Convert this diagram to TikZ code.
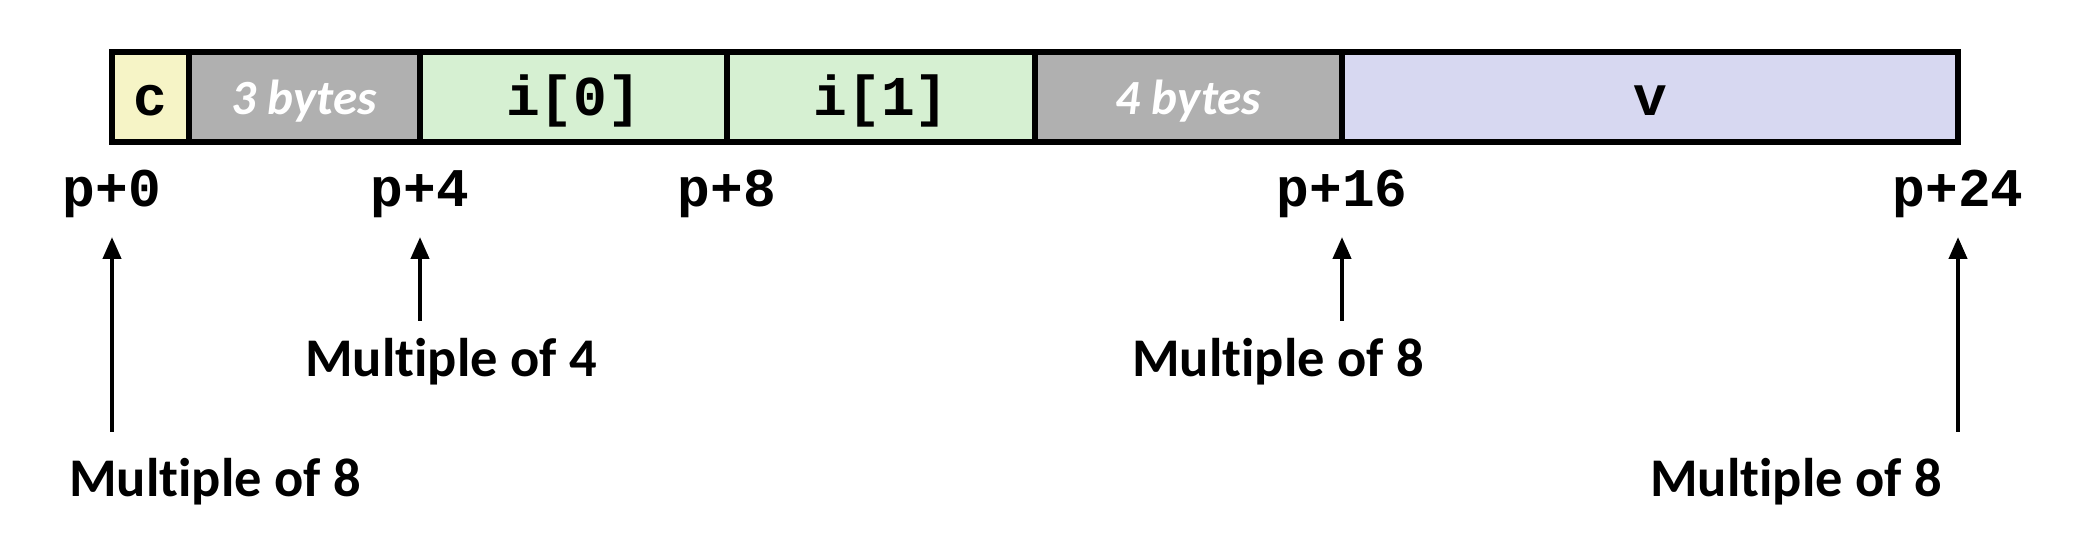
\documentclass[tikz,border=0pt]{standalone}
\usepackage{fontspec}
\setmainfont[Ligatures=NoCommon]{Carlito}
\setmonofont{Liberation Mono}
\usetikzlibrary{arrows.meta}
\definecolor{padgray}{RGB}{176, 176, 176}
\definecolor{charyellow}{RGB}{246, 244, 198}
\definecolor{intgreen}{RGB}{214, 240, 210}
\definecolor{dblpurple}{RGB}{215, 216, 241}

\begin{document}
\begin{tikzpicture}[
    cellline/.style={draw=black, line width=1.5pt},
    fieldtxt/.style={font=\fontsize{16}{18}\selectfont\ttfamily\bfseries},
    padtxt/.style={text=white, font=\fontsize{14}{16}\selectfont\bfseries\itshape},
    addrtxt/.style={font=\fontsize{15.5}{18}\selectfont\ttfamily\bfseries, inner sep=0pt, anchor=base},
    multtxt/.style={font=\fontsize{15.5}{18}\selectfont\bfseries},
    alignarrow/.style={line width=1.2pt, -{Triangle[length=0.22cm, width=0.18cm]}, shorten >=0.18cm}
  ]
            \useasboundingbox                        (0.00, 0.00) rectangle (20.96, 5.46);
            % struct fields
            \filldraw[cellline, fill=charyellow]     ( 1.12, 4.04) rectangle ( 1.89, 4.94);
            \filldraw[cellline, fill=padgray]        ( 1.89, 4.04) rectangle ( 4.20, 4.94);
            \filldraw[cellline, fill=intgreen]       ( 4.20, 4.04) rectangle ( 7.27, 4.94);
            \filldraw[cellline, fill=intgreen]       ( 7.27, 4.04) rectangle (10.35, 4.94);
            \filldraw[cellline, fill=padgray]        (10.35, 4.04) rectangle (13.42, 4.94);
            \filldraw[cellline, fill=dblpurple]      (13.42, 4.04) rectangle (19.58, 4.94);
            \node[fieldtxt] (c)    at ( 1.505, 4.45) {c};
            \node[padtxt]   (pad3) at ( 3.045, 4.45) {3 bytes};
            \node[fieldtxt] (i0)   at ( 5.735, 4.45) {i[0]};
            \node[fieldtxt] (i1)   at ( 8.810, 4.45) {i[1]};
            \node[padtxt]   (pad4) at (11.885, 4.45) {4 bytes};
            \node[fieldtxt] (v)    at (16.500, 4.45) {v};
            % offsets
            \node[addrtxt] (p0)  at ( 1.12, 3.39) {p+0};
            \node[addrtxt] (p4)  at ( 4.20, 3.39) {p+4};
            \node[addrtxt] (p8)  at ( 7.27, 3.39) {p+8};
            \node[addrtxt] (p16) at (13.42, 3.39) {p+16};
            \node[addrtxt] (p24) at (19.58, 3.39) {p+24};
            % alignment notes
            \node[multtxt] (m4)  at ( 4.51, 1.84) {Multiple of 4};
            \node[multtxt] (m16) at (12.78, 1.84) {Multiple of 8};
            \node[multtxt] (m0)  at ( 2.15, 0.64) {Multiple of 8};
            \node[multtxt] (m24) at (17.96, 0.64) {Multiple of 8};
            \coordinate (t0)  at ( 1.12, 1.14);
            \coordinate (t4)  at ( 4.20, 2.25);
            \coordinate (t16) at (13.42, 2.25);
            \coordinate (t24) at (19.58, 1.14);
            \draw[alignarrow] (t0)  -- (p0.south);
            \draw[alignarrow] (t4)  -- (p4.south);
            \draw[alignarrow] (t16) -- (p16.south);
            \draw[alignarrow] (t24) -- (p24.south);
\end{tikzpicture}
\end{document}
